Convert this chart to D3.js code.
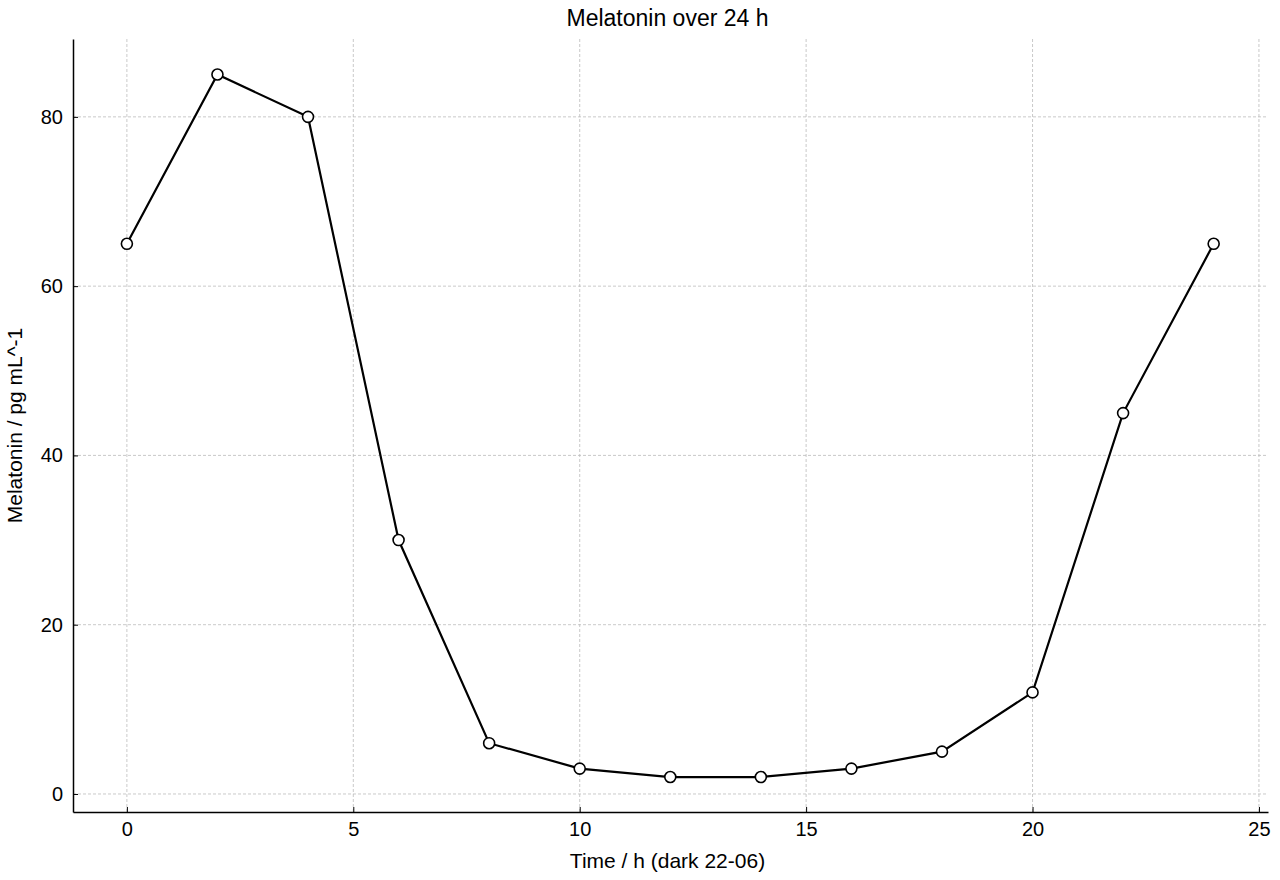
<!DOCTYPE html>
<html><head><meta charset="utf-8">
<script src="https://cdn.jsdelivr.net/npm/d3@7"></script>
<style>body{margin:0;background:#fff}text{font-family:"Liberation Sans",Arial,sans-serif}</style>
</head><body>
<svg id="c" width="1280" height="880"></svg>
<script>
const hours = [0,2,4,6,8,10,12,14,16,18,20,22,24];
const melatonin = [65,85,80,30,6,3,2,2,3,5,12,45,65];
const xTicks = [0,5,10,15,20,25];
const yTicks = [0,20,40,60,80];

const L=73,R=1268,T=39,B=812;
const svg=d3.select("#c");
const x=d3.scaleLinear().domain([-1.19,25.2]).range([L,R]);
const y=d3.scaleLinear().domain([-2.13,89.2]).range([B,T]);

const g=svg.append("g");
xTicks.forEach(t=>g.append("line").attr("x1",x(t)).attr("x2",x(t)).attr("y1",T).attr("y2",B).attr("stroke","#bbb").attr("stroke-dasharray","3,2").attr("stroke-width",0.8));
yTicks.forEach(t=>g.append("line").attr("y1",y(t)).attr("y2",y(t)).attr("x1",L).attr("x2",R).attr("stroke","#bbb").attr("stroke-dasharray","3,2").attr("stroke-width",0.8));

const xa=svg.append("g").attr("transform",`translate(0,${B})`).call(d3.axisBottom(x).tickValues(xTicks).tickSizeInner(-5).tickSizeOuter(0).tickPadding(10));
const ya=svg.append("g").attr("transform",`translate(${L},0)`).call(d3.axisLeft(y).tickValues(yTicks).tickSizeInner(-5).tickSizeOuter(0).tickPadding(10));
[xa,ya].forEach(a=>{a.attr("font-size",null);a.selectAll("text").style("font-size","20px").attr("fill","#000").style("font-family","Liberation Sans, Arial");a.select(".domain").attr("stroke","#000").attr("stroke-width",1.5);a.selectAll(".tick line").attr("stroke","#000")});

const line=d3.line().x((d,i)=>x(hours[i])).y(d=>y(d));
svg.append("path").datum(melatonin).attr("d",line).attr("fill","none").attr("stroke","#000").attr("stroke-width",2.2);
svg.selectAll("circle.p").data(melatonin).enter().append("circle").attr("cx",(d,i)=>x(hours[i])).attr("cy",d=>y(d)).attr("r",5.5).attr("fill","#fff").attr("stroke","#000").attr("stroke-width",1.6);

svg.append("text").attr("x",(L+R)/2-3).attr("y",26).attr("text-anchor","middle").style("font-size","23px").text("Melatonin over 24 h");
svg.append("text").attr("x",(L+R)/2-3).attr("y",868).attr("text-anchor","middle").style("font-size","21px").text("Time / h (dark 22-06)");
svg.append("text").attr("transform",`translate(22,${(T+B)/2}) rotate(-90)`).attr("text-anchor","middle").style("font-size","21px").text("Melatonin / pg mL^-1");
</script>
</body></html>
